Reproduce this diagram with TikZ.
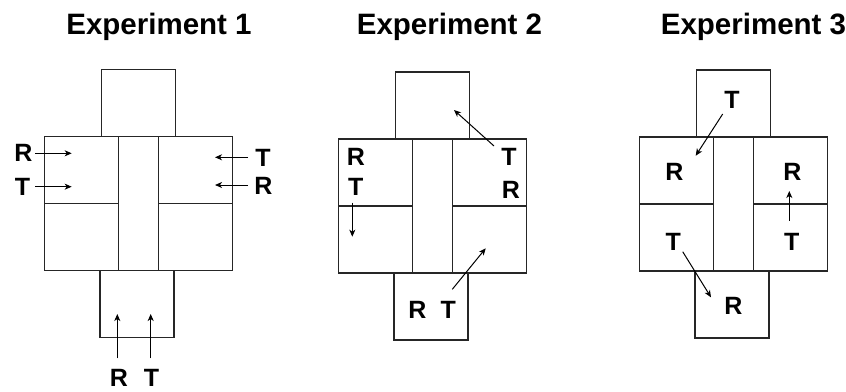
\documentclass[tikz,border=0pt]{standalone}
\usepackage{fontspec}
\setmainfont{Liberation Sans}
\usetikzlibrary{arrows.meta}
\tikzset{
  box/.style={draw=black!85, line width=1.1pt, rectangle, inner sep=0pt, outer sep=0pt},
  cellbox/.style={box, minimum width=74pt, minimum height=67pt},
  colbox/.style={box, minimum width=40pt, minimum height=134pt},
  lab/.style={inner sep=0pt, font=\fontsize{25}{30}\selectfont\bfseries},
  ttl/.style={inner sep=0pt, anchor=base, font=\fontsize{29.5}{34}\selectfont\bfseries},
  arr/.style={line width=1pt, -{Stealth[length=7pt,width=6pt,inset=2pt]}}
}
\newcommand\rigdraw[3]{%
  \begin{scope}[shift={(#2,#3)}]
    \node[cellbox] (#1top) at (94.4,-33.5) {};
    \node[cellbox] (#1tl) at (37,33.5) {};
    \node[cellbox] (#1bl) at (37,100.5) {};
    \node[colbox]  (#1col) at (94,67) {};
    \node[cellbox] (#1tr) at (151,33.5) {};
    \node[cellbox] (#1br) at (151,100.5) {};
    \node[cellbox] (#1bot) at (92.7,167.5) {};
  \end{scope}}
\begin{document}
\begin{tikzpicture}[x=1pt,y=-1pt]
\useasboundingbox[fill=white] (0,0) rectangle (846,391);
% titles
\node[ttl] (t1) at (159,34.5) {Experiment 1};
\node[ttl] (t2) at (449.5,34.5) {Experiment 2};
\node[ttl] (t3) at (753.5,34.5) {Experiment 3};
% rigs
\rigdraw{a}{44.3}{136.7}
\rigdraw{b}{338.3}{139}
\rigdraw{c}{639.3}{137}
% ---------- Experiment 1 ----------
\node[lab] (aR1) at (23.5,153.3) {R};
\node[lab] (aT1) at (22.5,186.7) {T};
\node[lab] (aT2) at (263,157.5) {T};
\node[lab] (aR2) at (263.5,185.5) {R};
\node[lab] (aR3) at (119,377.5) {R};
\node[lab] (aT3) at (151.5,377.5) {T};
\coordinate (a1s) at (35,153.3);  \coordinate (a1e) at (71.7,153.3);
\coordinate (a2s) at (35,186.7);  \coordinate (a2e) at (71.7,186.7);
\coordinate (a3s) at (248,157.3); \coordinate (a3e) at (215,157.3);
\coordinate (a4s) at (248,185);   \coordinate (a4e) at (215,185);
\coordinate (a5s) at (117.3,358.3); \coordinate (a5e) at (117.3,314);
\coordinate (a6s) at (150.7,358.3); \coordinate (a6e) at (150.7,314);
\draw[arr] (a1s) -- (a1e);
\draw[arr] (a2s) -- (a2e);
\draw[arr] (a3s) -- (a3e);
\draw[arr] (a4s) -- (a4e);
\draw[arr] (a5s) -- (a5e);
\draw[arr] (a6s) -- (a6e);
% ---------- Experiment 2 ----------
\node[lab] (bR1) at (356,157.3) {R};
\node[lab] (bT1) at (355.8,186.7) {T};
\node[lab] (bT2) at (509,156.7) {T};
\node[lab] (bR2) at (510.8,190) {R};
\node[lab] (bR3) at (417.5,310) {R};
\node[lab] (bT3) at (448.3,310) {T};
\coordinate (b1s) at (352.3,202.7); \coordinate (b1e) at (352.3,236.7);
\coordinate (b2s) at (494,146);     \coordinate (b2e) at (454,110);
\coordinate (b3s) at (452.3,289.3); \coordinate (b3e) at (485.7,248.3);
\draw[arr] (b1s) -- (b1e);
\draw[arr] (b2s) -- (b2e);
\draw[arr] (b3s) -- (b3e);
% ---------- Experiment 3 ----------
\node[lab] (cT1) at (732,99.5) {T};
\node[lab] (cR1) at (674.5,171.7) {R};
\node[lab] (cR2) at (792.5,171.7) {R};
\node[lab] (cT2) at (673.3,241.7) {T};
\node[lab] (cT3) at (791.7,241.7) {T};
\node[lab] (cR3) at (733.3,306.3) {R};
\coordinate (c1s) at (722.7,114);   \coordinate (c1e) at (695.7,155.7);
\coordinate (c2s) at (789.3,220.7); \coordinate (c2e) at (789.3,191);
\coordinate (c3s) at (682.7,251.7); \coordinate (c3e) at (711,297.3);
\draw[arr] (c1s) -- (c1e);
\draw[arr] (c2s) -- (c2e);
\draw[arr] (c3s) -- (c3e);
\end{tikzpicture}
\end{document}
